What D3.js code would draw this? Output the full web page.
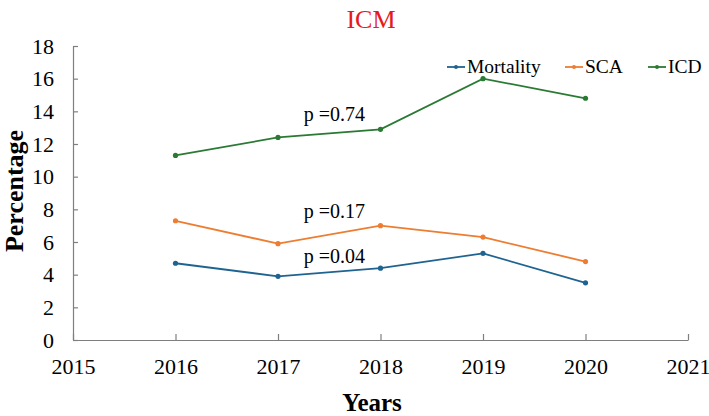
<!DOCTYPE html>
<html><head><meta charset="utf-8">
<script src="https://cdn.jsdelivr.net/npm/d3@7"></script>
<style>body{margin:0;background:#fff}svg{display:block}svg text{font-family:"Liberation Serif",serif !important}</style>
</head><body><svg id="c" width="709" height="416"></svg>
<script>
const years = [2016, 2017, 2018, 2019, 2020];
const mortality = [4.7, 3.9, 4.4, 5.3, 3.5];
const sca = [7.3, 5.9, 7.0, 6.3, 4.8];
const icd = [11.3, 12.4, 12.9, 16.0, 14.8];
const seriesNames = ["Mortality", "SCA", "ICD"];
const seriesColors = ["#1f6391", "#ed7d31", "#2b7a34"];
const xTicks = [2015, 2016, 2017, 2018, 2019, 2020, 2021];
const yTicks = [0, 2, 4, 6, 8, 10, 12, 14, 16, 18];
const pTexts = ["p =0.74", "p =0.17", "p =0.04"];
const pYear = [2017.25, 2017.25, 2017.25];
const pValue = [13.4, 7.5, 4.7];

const FONT = "Liberation Serif";
const svg = d3.select("#c").attr("font-family", FONT);
const x = d3.scaleLinear().domain([2015, 2021]).range([73, 688]);
const y = d3.scaleLinear().domain([0, 18]).range([340, 46]);
const axisColor = "#7f7f7f";

svg.append("text").attr("x", 371).attr("y", 28).attr("text-anchor", "middle")
  .style("font-family", FONT).attr("fill", "#e8191b").attr("font-size", 26).text("ICM");

const ya = svg.append("g").attr("transform", "translate(73,0)")
  .call(d3.axisLeft(y).tickValues(yTicks).tickSize(-5).tickPadding(19).tickSizeOuter(0));
ya.attr("font-family", FONT);
ya.select(".domain").attr("stroke", axisColor).attr("stroke-width", 1.2);
ya.selectAll(".tick line").attr("stroke", axisColor).attr("stroke-width", 1.2);
ya.selectAll(".tick text").attr("font-size", 22).attr("fill", "#000").style("font-family", FONT);

const xa = svg.append("g").attr("transform", "translate(0,340)")
  .call(d3.axisBottom(x).tickValues(xTicks).tickFormat(d3.format("d")).tickSize(-6).tickPadding(18).tickSizeOuter(0));
xa.attr("font-family", FONT);
xa.select(".domain").attr("stroke", axisColor).attr("stroke-width", 1.2);
xa.selectAll(".tick line").attr("stroke", axisColor).attr("stroke-width", 1.2);
xa.selectAll(".tick text").attr("font-size", 22).attr("fill", "#000").style("font-family", FONT);

svg.append("text").attr("transform", "translate(23,191) rotate(-90)").attr("text-anchor", "middle")
  .style("font-family", FONT).attr("font-size", 26).attr("font-weight", "bold").text("Percentage");
svg.append("text").attr("x", 372).attr("y", 411).attr("text-anchor", "middle")
  .style("font-family", FONT).attr("font-size", 25).attr("font-weight", "bold").text("Years");

const data = [mortality, sca, icd];
const line = d3.line().x((d, i) => x(years[i])).y(d => y(d));
data.forEach((s, k) => {
  svg.append("path").datum(s).attr("d", line).attr("fill", "none")
    .attr("stroke", seriesColors[k]).attr("stroke-width", 1.8);
  svg.selectAll(null).data(s).enter().append("circle")
    .attr("cx", (d, i) => x(years[i])).attr("cy", d => y(d)).attr("r", 2.6)
    .attr("fill", seriesColors[k]);
});

pTexts.forEach((t, i) => {
  svg.append("text").attr("x", x(pYear[i])).attr("y", y(pValue[i]))
    .style("font-family", FONT).attr("font-size", 20).text(t);
});

const legX = [447, 565, 648];
seriesNames.forEach((n, k) => {
  const g = svg.append("g").attr("transform", `translate(${legX[k]},67)`);
  g.append("line").attr("x1", 0).attr("x2", 18).attr("stroke", seriesColors[k]).attr("stroke-width", 1.8);
  g.append("circle").attr("cx", 9).attr("r", 2).attr("fill", seriesColors[k]);
  g.append("text").attr("x", 20).attr("y", 6).style("font-family", FONT).attr("font-size", 19.5).text(n);
});
</script></body></html>
